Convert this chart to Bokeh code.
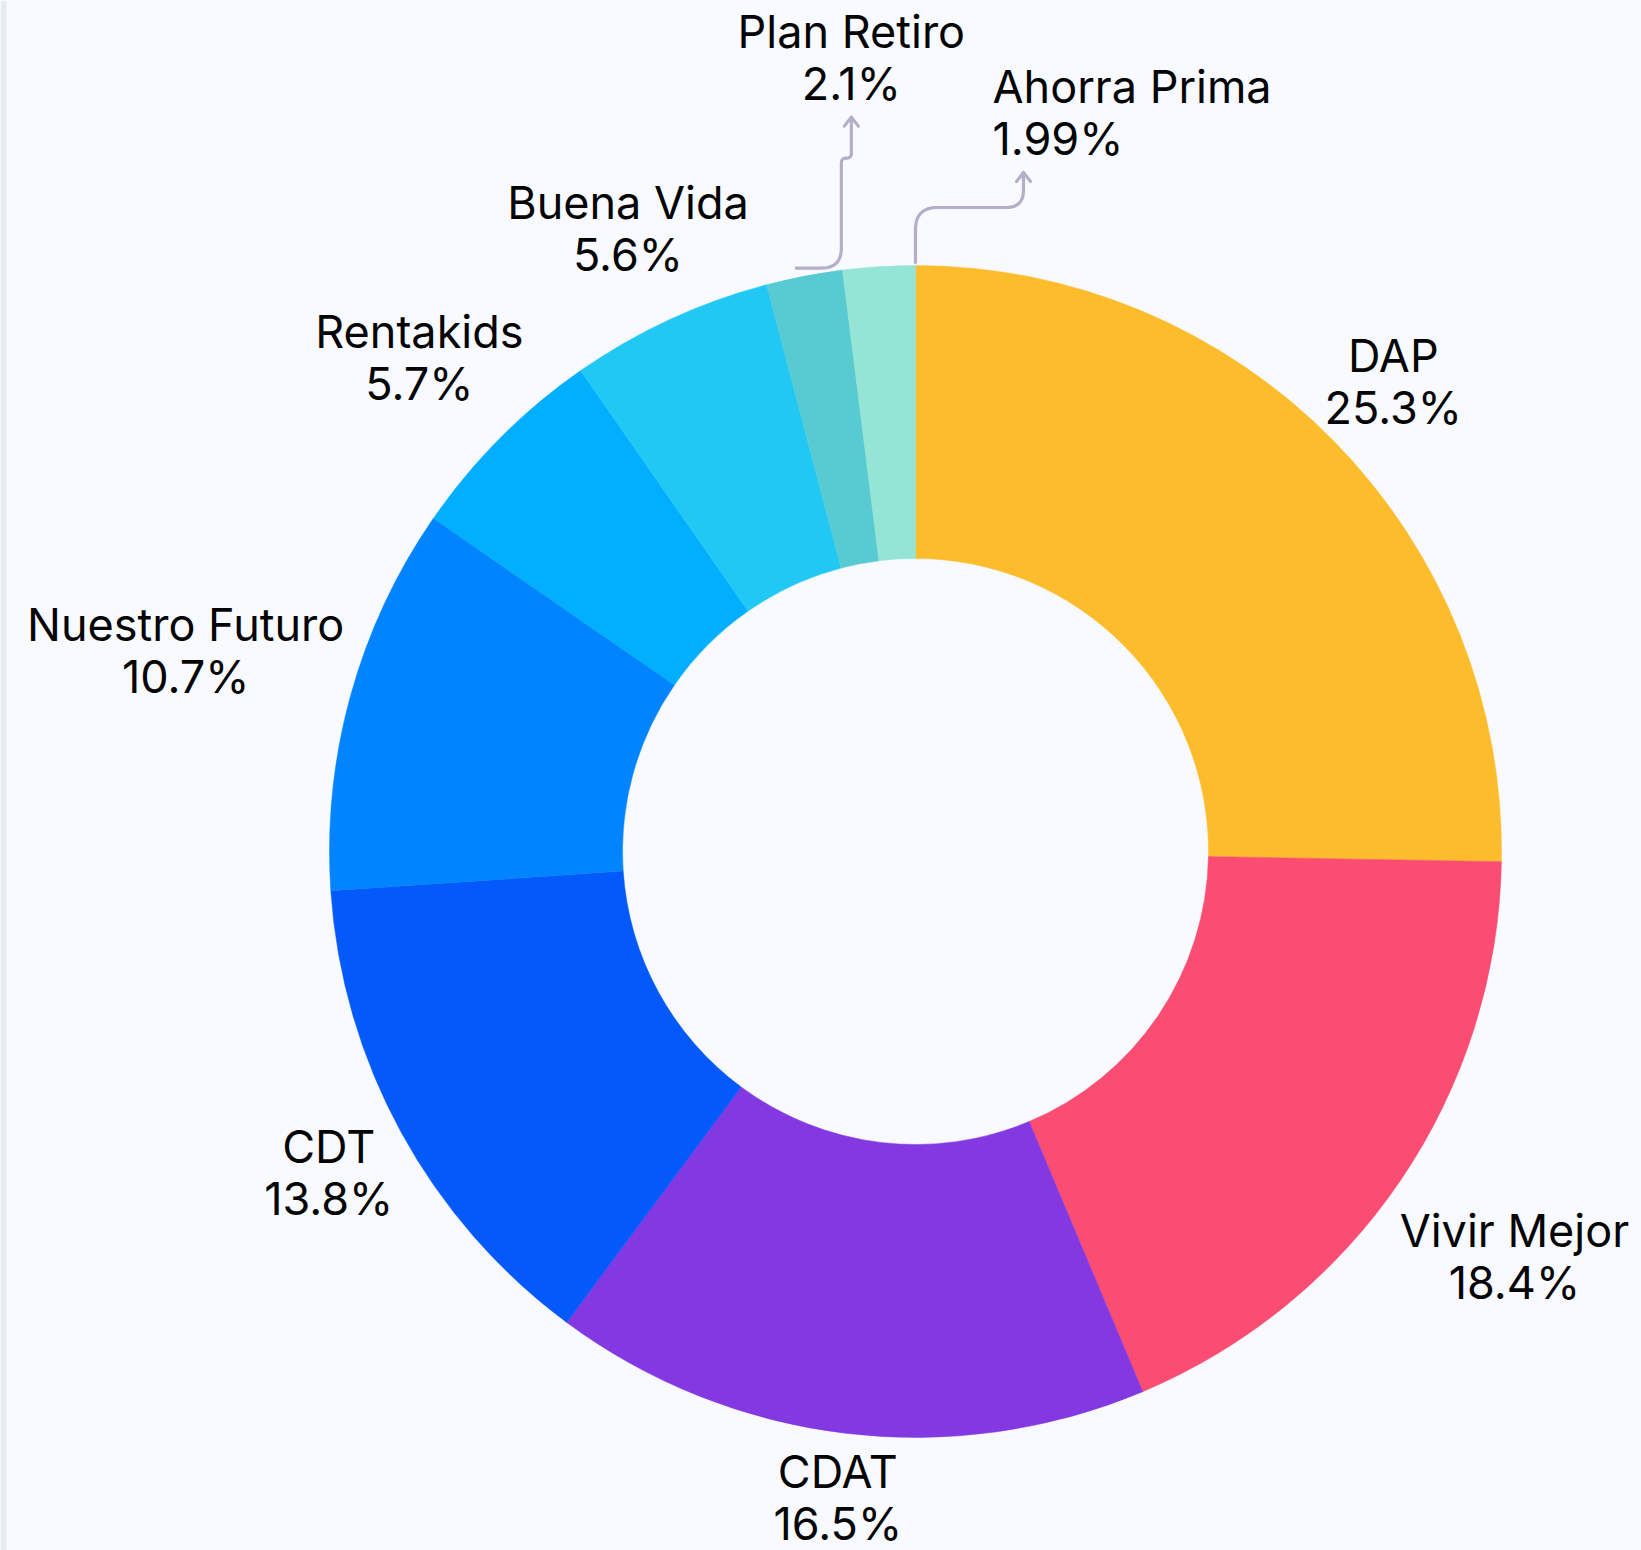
import numpy as np
from bokeh.plotting import figure
from bokeh.models import Range1d, ColumnDataSource, BoxAnnotation
from bokeh.core.properties import value
from bokeh.embed import file_html
from bokeh.resources import INLINE

# ---- data ----
categories = ["DAP", "Vivir Mejor", "CDAT", "CDT", "Nuestro Futuro",
              "Rentakids", "Buena Vida", "Plan Retiro", "Ahorra Prima"]
shares = [25.3, 18.4, 16.5, 13.8, 10.7, 5.7, 5.6, 2.1, 1.99]
colors = ["#FDBC2B", "#FB4C71", "#8338E2", "#0459FB", "#0084FF",
          "#01AEFF", "#22C8F4", "#58CAD1", "#94E5D6"]
callout_labels = ["Plan Retiro", "Ahorra Prima"]

# ---- layout (pixels, 1 data unit = 1 px) ----
W, H = 1641, 1550
CX, CY = 915, 851          # pie centre in plot pixels (from top-left)
R_OUT, R_IN = 586, 293
FONT = "Inter"
FS = 45
LINE_GAP = 26
BG = "#F8FAFF"
LINE_COL = "#B4AEC8"

p = figure(width=W, height=H, output_backend="svg", toolbar_location=None,
           x_range=Range1d(-CX, W - CX), y_range=Range1d(-(H - CY), CY),
           min_border=0, background_fill_color=BG, border_fill_color=BG)
p.axis.visible = False
p.grid.visible = False
p.outline_line_color = None

# thin strip at the left edge
p.add_layout(BoxAnnotation(left=-CX, right=-CX + 6, fill_color="#E5ECEF",
                           fill_alpha=1, line_color=None))

vals = np.array(shares, dtype=float)
frac = vals / vals.sum()
cum_end = np.cumsum(frac)
cum_start = cum_end - frac
start_ang = np.pi / 2 - 2 * np.pi * cum_start
end_ang = np.pi / 2 - 2 * np.pi * cum_end
mid_ang = (start_ang + end_ang) / 2

src = ColumnDataSource(dict(x=[0] * len(vals), y=[0] * len(vals),
                            start=start_ang, end=end_ang, color=colors))
p.annular_wedge(x="x", y="y", inner_radius=R_IN, outer_radius=R_OUT,
                start_angle="start", end_angle="end", direction="clock",
                fill_color="color", line_color="color", line_width=0.5,
                source=src)

pct = [f"{v}%" for v in shares]

# ---- regular labels placed on the mid-angle ray ----
lx, ly, ln, lp = [], [], [], []
for i, c in enumerate(categories):
    if c in callout_labels:
        continue
    a = mid_ang[i]
    hw = 0.5 * 21.5 * max(len(c), len(pct[i]))
    hh = 45
    r = R_OUT + 14 + hw * abs(np.cos(a)) + hh * abs(np.sin(a))
    lx.append(r * np.cos(a))
    ly.append(r * np.sin(a))
    ln.append(c)
    lp.append(pct[i])

common = dict(text_font=value(FONT), text_font_size=f"{FS}px",
              text_color="#050505", text_baseline="middle")
p.text(x=lx, y=ly, text=ln, text_align="center", y_offset=-LINE_GAP, **common)
p.text(x=lx, y=ly, text=lp, text_align="center", y_offset=LINE_GAP, **common)


# ---- callouts ----
def rounded(points, radius):
    pts = [np.array(q, dtype=float) for q in points]
    out = [pts[0]]
    for k in range(1, len(pts) - 1):
        v = pts[k]
        din = (v - pts[k - 1]); din /= np.linalg.norm(din)
        dout = (pts[k + 1] - v); dout /= np.linalg.norm(dout)
        rr = min(radius[k - 1], np.linalg.norm(v - pts[k - 1]) / 2,
                 np.linalg.norm(pts[k + 1] - v) / 2)
        a = v - din * rr
        b = v + dout * rr
        for t in np.linspace(0, 1, 12):
            out.append((1 - t) ** 2 * a + 2 * (1 - t) * t * v + t ** 2 * b)
    out.append(pts[-1])
    arr = np.array(out)
    return arr[:, 0], arr[:, 1]


def arrow_head(tip):
    tx, ty = tip
    return [[tx - 7, tx, tx + 7]], [[ty - 9, ty, ty - 9]]


# Plan Retiro: from the outer mid point of its slice
i_pr = categories.index("Plan Retiro")
a = mid_ang[i_pr]
s = np.array([R_OUT * np.cos(a) - 8, R_OUT * np.sin(a) + 8])
pr_pts = [s, s + [45, 0], s + [45, 110], s + [55, 110], s + [55, 151]]
xs, ys = rounded(pr_pts, [20, 6, 6])
p.line(xs, ys, line_color=LINE_COL, line_width=3.2, line_cap="round")
tip = pr_pts[-1]
ax, ay = arrow_head(tip)
p.multi_line(ax, ay, line_color=LINE_COL, line_width=3.2, line_cap="round", line_join="round")
p.text(x=[tip[0]], y=[tip[1]], text=[categories[i_pr]], text_align="center",
       y_offset=-(34 + 2 * LINE_GAP), **common)
p.text(x=[tip[0]], y=[tip[1]], text=[pct[i_pr]], text_align="center",
       y_offset=-34, **common)

# Ahorra Prima: from the top end of its slice
i_ap = categories.index("Ahorra Prima")
a = end_ang[i_ap]
s = np.array([R_OUT * np.cos(a), R_OUT * np.sin(a) + 3])
ap_pts = [s, s + [0, 55], s + [108, 55], s + [108, 90]]
xs, ys = rounded(ap_pts, [22, 18])
p.line(xs, ys, line_color=LINE_COL, line_width=3.2, line_cap="round")
tip = ap_pts[-1]
ax, ay = arrow_head(tip)
p.multi_line(ax, ay, line_color=LINE_COL, line_width=3.2, line_cap="round", line_join="round")
p.text(x=[tip[0] - 31], y=[tip[1]], text=[categories[i_ap]], text_align="left",
       y_offset=-(34 + 2 * LINE_GAP), **common)
p.text(x=[tip[0] - 31], y=[tip[1]], text=[pct[i_ap]], text_align="left",
       y_offset=-34, **common)

open("out.html", "w").write(file_html(p, INLINE))
